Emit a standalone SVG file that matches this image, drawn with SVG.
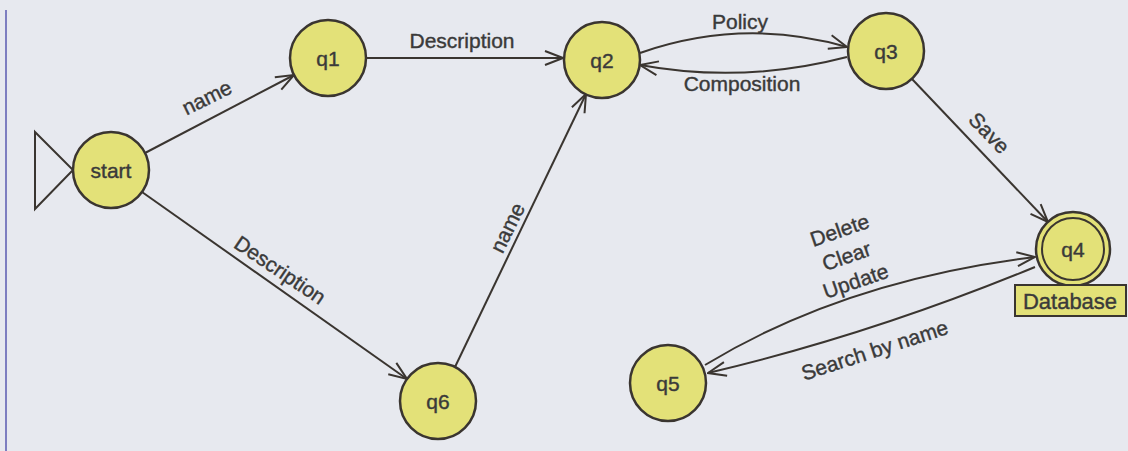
<svg xmlns="http://www.w3.org/2000/svg" width="1128" height="451" viewBox="0 0 1128 451">
  <defs>
    <marker id="arr" viewBox="0 0 20 20" refX="19" refY="10" markerWidth="20" markerHeight="20" markerUnits="userSpaceOnUse" orient="auto">
      <path d="M1,3 L19,10 L1,17" fill="none" stroke="#3a3530" stroke-width="2"/>
    </marker>
  </defs>
  <style>
    .st { fill: #e3e178; stroke: #3a3530; stroke-width: 2.5; }
    .ed { fill: none; stroke: #3a3530; stroke-width: 2; marker-end: url(#arr); }
    .nt, .lb { font-family: "Liberation Sans", Arial, sans-serif; font-size: 21px; fill: #3a3a3a; stroke: #3a3a3a; stroke-width: 0.4; text-anchor: middle; }
  </style>
  <rect width="1128" height="451" fill="#e7e9ef"/>
  <line x1="6" y1="10" x2="6" y2="451" stroke="#5a5ab0" stroke-width="1.5"/>

  <g id="connectors">
    <path class="ed" d="M145,153 L294,75"/>
    <text class="lb" transform="translate(210,104) rotate(-26)">name</text>
    <path class="ed" d="M367,58 L563,58"/>
    <text class="lb" x="462" y="48">Description</text>
    <path class="ed" d="M640,53 Q743,17 847,47"/>
    <text class="lb" x="740" y="29">Policy</text>
    <path class="ed" d="M847,57 Q743,84 640,65"/>
    <text class="lb" x="742" y="91">Composition</text>
    <path class="ed" d="M912,79 L1048,222"/>
    <text class="lb" transform="translate(984,138) rotate(46)">Save</text>
    <path class="ed" d="M142,192 L407,379"/>
    <text class="lb" transform="translate(276,276) rotate(34)">Description</text>
    <path class="ed" d="M455,367 L586,94"/>
    <text class="lb" transform="translate(514,231) rotate(-64)">name</text>
    <path class="ed" d="M705,365 Q845,280 1035,257"/>
    <text class="lb" transform="translate(842,237) rotate(-19)">Delete</text>
    <text class="lb" transform="translate(849,263) rotate(-19)">Clear</text>
    <text class="lb" transform="translate(858,288) rotate(-19)">Update</text>
    <path class="ed" d="M1035,267 Q870,335 708,373"/>
    <text class="lb" transform="translate(877,357) rotate(-18)">Search by name</text>
  </g>

  <g id="start">
    <path d="M35,132 L73,170 L35,209 Z" fill="none" stroke="#3a3530" stroke-width="2"/>
    <circle class="st" cx="111" cy="170" r="38"/>
    <text class="nt" x="111" y="178">start</text>
  </g>
  <g id="q1">
    <circle class="st" cx="328" cy="58" r="38"/>
    <text class="nt" x="328" y="66">q1</text>
  </g>
  <g id="q2">
    <circle class="st" cx="602" cy="60" r="38"/>
    <text class="nt" x="602" y="68">q2</text>
  </g>
  <g id="q3">
    <circle class="st" cx="886" cy="51" r="38"/>
    <text class="nt" x="886" y="59">q3</text>
  </g>
  <g id="q4">
    <circle class="st" cx="1073" cy="249" r="37"/>
    <circle cx="1073" cy="249" r="31" fill="none" stroke="#3a3530" stroke-width="2"/>
    <text class="nt" x="1073" y="257">q4</text>
    <rect x="1015" y="285" width="111" height="31" fill="#e3e178" stroke="#3a3530" stroke-width="2"/>
    <text class="nt" x="1070" y="309" style="font-size:22px">Database</text>
  </g>
  <g id="q5">
    <circle class="st" cx="668" cy="383" r="38"/>
    <text class="nt" x="668" y="391">q5</text>
  </g>
  <g id="q6">
    <circle class="st" cx="438" cy="401" r="38"/>
    <text class="nt" x="438" y="409">q6</text>
  </g>
</svg>
